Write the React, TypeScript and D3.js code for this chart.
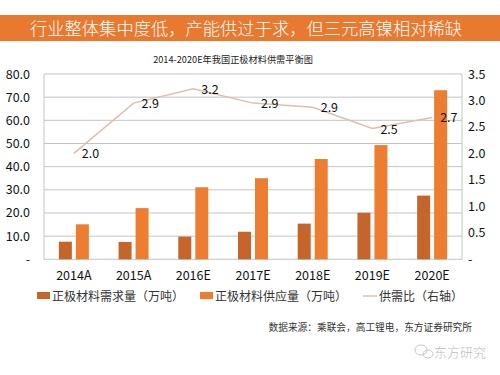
import React from "react";
import * as d3 from "d3";

const categories = ["2014A", "2015A", "2016E", "2017E", "2018E", "2019E", "2020E"];
const demand = [7.6, 7.5, 9.8, 11.9, 15.4, 20.1, 27.5];
const supply = [15.1, 22.1, 31.1, 35.0, 43.3, 49.3, 73.0];
const ratio = [2.0, 2.95, 3.22, 2.95, 2.87, 2.47, 2.68];
const ratioLabels = ["2.0", "2.9", "3.2", "2.9", "2.9", "2.5", "2.7"];
const leftTicks = [0, 10, 20, 30, 40, 50, 60, 70, 80];
const rightTicks = [0, 0.5, 1, 1.5, 2, 2.5, 3, 3.5];
const legendLabels = ["正极材料需求量（万吨）", "正极材料供应量（万吨）", "供需比（右轴）"];

const W = 500, H = 375;
const L = 44, R = 462, T = 74, B = 259.3;
const darkColor = "#c5652b";
const lightColor = "#ed7d31";
const lineColor = "#dcbfae";
const sans = "'Noto Sans CJK SC', 'Noto Sans', sans-serif";
const serif = "'Liberation Serif', 'Noto Sans CJK SC', serif";

export default function App() {
  const x = d3.scaleBand().domain(categories).range([L, R]).padding(0);
  const yL = d3.scaleLinear().domain([0, 80]).range([B, T]);
  const yR = d3.scaleLinear().domain([0, 3.5]).range([B, T]);
  const bw = 13, gap = 4;
  const cx = (c: string) => (x(c) as number) + x.bandwidth() / 2;
  const line = d3.line<number>().x((_, i) => cx(categories[i])).y((d) => yR(d));
  const fmtL = (v: number) => (v === 0 ? "-" : v.toFixed(1));
  const fmtR = (v: number) => (v === 0 ? "-" : v.toFixed(1));

  return (
    <svg width={W} height={H} style={{ position: "absolute", left: 0, top: 0, background: "#fff" }}>
      <rect x={0} y={15} width={W} height={26} fill="#e8792f" />
      <text x={246} y={34.5} textAnchor="middle" fill="#fff" fontSize={17.3} fontWeight={300} fontFamily={sans}>
        行业整体集中度低，产能供过于求，但三元高镍相对稀缺
      </text>
      <text x={233} y={62.5} textAnchor="middle" fill="#222" fontSize={9.2} fontFamily={sans}>
        2014-2020E年我国正极材料供需平衡图
      </text>
      {leftTicks.map((t) => (
        <line key={t} x1={L} x2={R} y1={yL(t)} y2={yL(t)} stroke="#c4c4c4" strokeWidth={1} />
      ))}
      <line x1={L} x2={L} y1={T} y2={B} stroke="#c4c4c4" />
      <line x1={R} x2={R} y1={T} y2={B} stroke="#c4c4c4" />
      {leftTicks.map((t) => (
        <text key={t} x={30} y={yL(t) + 4.5} textAnchor="end" fontSize={12.5} fontFamily={sans} fill="#111">
          {fmtL(t)}
        </text>
      ))}
      {rightTicks.map((t) => (
        <text key={t} x={468} y={yR(t) + 4.5} textAnchor="start" fontSize={12.5} fontFamily={sans} fill="#111">
          {fmtR(t)}
        </text>
      ))}
      {categories.map((c, i) => (
        <g key={c}>
          <rect x={cx(c) - gap / 2 - bw} y={yL(demand[i])} width={bw} height={B - yL(demand[i])} fill={darkColor} />
          <rect x={cx(c) + gap / 2} y={yL(supply[i])} width={bw} height={B - yL(supply[i])} fill={lightColor} />
          <text x={cx(c)} y={279.5} textAnchor="middle" fontSize={12.5} fontFamily={sans} fill="#111">
            {c}
          </text>
        </g>
      ))}
      <path d={line(ratio) || ""} fill="none" stroke={lineColor} strokeWidth={1.5} />
      {ratio.map((r, i) => (
        <text key={i} x={cx(categories[i]) + 8} y={yR(r) + 5} fontSize={12.5} fontFamily={sans} fill="#111">
          {ratioLabels[i]}
        </text>
      ))}
      <rect x={37} y={292} width={13} height={7} fill={darkColor} />
      <text x={52} y={301} fontSize={12} fontFamily={serif} fill="#333">{legendLabels[0]}</text>
      <rect x={200} y={292} width={13} height={7} fill={lightColor} />
      <text x={215} y={301} fontSize={12} fontFamily={serif} fill="#333">{legendLabels[1]}</text>
      <line x1={363} x2={377} y1={296} y2={296} stroke={lineColor} strokeWidth={1.5} />
      <text x={379} y={301} fontSize={12} fontFamily={serif} fill="#333">{legendLabels[2]}</text>
      <text x={472} y={331} textAnchor="end" fontSize={9.7} fontFamily={sans} fill="#333">
        数据来源：乘联会，高工锂电，东方证券研究所
      </text>
      <g stroke="#c8c8c8" fill="none" strokeWidth={1}>
        <ellipse cx={421} cy={350} rx={6} ry={5} />
        <ellipse cx={428} cy={354} rx={5} ry={4} />
      </g>
      <text x={434} y={357} fontSize={13} fontWeight={300} fontFamily={sans} fill="#bdbdbd">东方研究</text>
    </svg>
  );
}
